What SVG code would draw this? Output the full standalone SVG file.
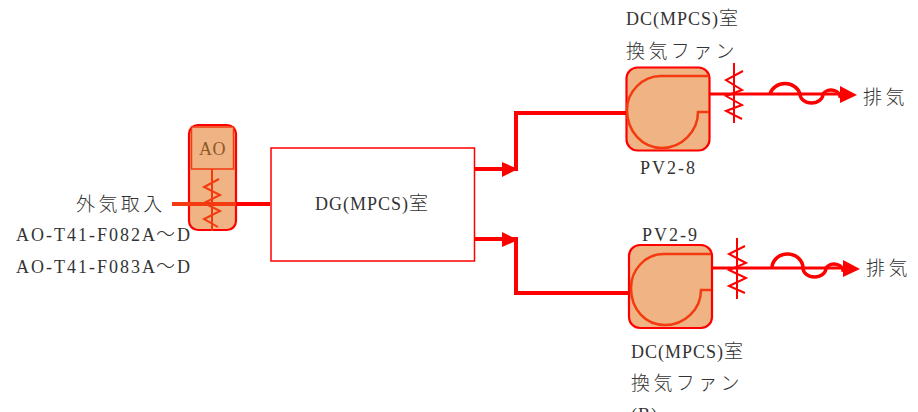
<svg xmlns="http://www.w3.org/2000/svg" width="918" height="412" viewBox="0 0 918 412">
<style>
text{font-family:"Liberation Serif","Noto Sans CJK JP",serif;font-size:18px;fill:#333;letter-spacing:1px}
.id{letter-spacing:2px}
.j{font-family:"Noto Sans CJK JP",sans-serif;font-weight:300;font-size:19px;letter-spacing:3.400px}
.pipe{fill:none;stroke:#f00;stroke-width:4}
.thin{fill:none;stroke:#f00;stroke-width:3}
.wave{fill:none;stroke:#f00;stroke-width:3.500}
.v{fill:none;stroke:#f00;stroke-width:2}
.body{fill:#f0b383;stroke:#f00;stroke-width:2.200}
.scroll{fill:none;stroke:#f33a10;stroke-width:2.500}
.head{fill:#f00}
</style>
<g id="connectors">
<path class="pipe" d="M172 204H270"/>
<path class="pipe" d="M475 169H516V113H626"/>
<path class="head" d="M502 162L518 169L502 177Z"/>
<path class="pipe" d="M475 239H516V293H628"/>
<path class="head" d="M502 232L518 240L502 247Z"/>
<path class="thin" d="M709 94H840"/>
<path class="wave" d="M770 94A15.500 14 0 0 1 800 94A11.500 9 0 0 0 823 94A9 7 0 0 1 840 98"/>
<path class="head" d="M840 86L857 95L840 103Z"/>
<path class="thin" d="M712 268H842"/>
<path class="wave" d="M772 268A15.500 14 0 0 1 803 268A11.500 9 0 0 0 826 268A9 7 0 0 1 843 272"/>
<path class="head" d="M843 260L860 269L843 277Z"/>
<path class="v" d="M734 63V123M743 71L726 80L742 90L726 96L742 105L726 111L742 119"/>
<path class="v" d="M737 238V299M745 246L729 254L746 263L729 270L746 278L729 286L745 293"/>
</g>
<g id="ao">
<rect class="body" x="189" y="125" width="47" height="105" rx="9"/>
<rect x="191.500" y="127" width="42" height="42" fill="#f0b383" stroke="#f33a10" stroke-width="1.500"/>
<text x="199" y="155" style="fill:#8a5a2a;letter-spacing:0.500px">AO</text>
<path d="M212 169V231M219 179L204 187L220 195L204 203L220 211L204 219L218 227" fill="none" stroke="#f33a10" stroke-width="2"/>
<path d="M172 204H236" fill="none" stroke="#f33a10" stroke-width="4"/>
</g>
<g id="dg"><rect x="271" y="148" width="203.500" height="113" fill="#fff" stroke="#f00" stroke-width="1.500"/>
<text x="315" y="210">DG(MPCS)<tspan class="j" x="409">室</tspan></text></g>
<g id="fan1">
<rect class="body" x="626.500" y="67.500" width="83" height="83" rx="11"/>
<path class="scroll" d="M709 76H661C642 76 627 92 627 110C627 131 642 148 662 148C682 148 698 131 698 112H709"/>
</g>
<g id="fan2">
<rect class="body" x="629" y="245" width="83" height="83" rx="11"/>
<path class="scroll" d="M711 254H664C645 254 631 270 631 288C631 309 645 325 665 325C685 325 701 309 701 290H711"/>
</g>
<g id="labels">
<text x="626" y="25">DC(MPCS)<tspan class="j" x="719">室</tspan></text>
<text x="626" y="58" class="j">換気ファン</text>
<text x="640" y="174" class="id">PV2-8</text>
<text x="642" y="241" class="id">PV2-9</text>
<text x="631" y="358">DC(MPCS)<tspan class="j" x="724">室</tspan></text>
<text x="631" y="390" class="j">換気ファン</text>
<text x="631" y="421">(B)</text>
<text x="863" y="104" class="j">排気</text>
<text x="866" y="275" class="j">排気</text>
<text x="76" y="211" class="j">外気取入</text>
<text x="16" y="241" class="id">AO-T41-F082A<tspan class="j" x="156">～</tspan><tspan x="177">D</tspan></text>
<text x="16" y="273" class="id">AO-T41-F083A<tspan class="j" x="156">～</tspan><tspan x="177">D</tspan></text>
</g>
</svg>
